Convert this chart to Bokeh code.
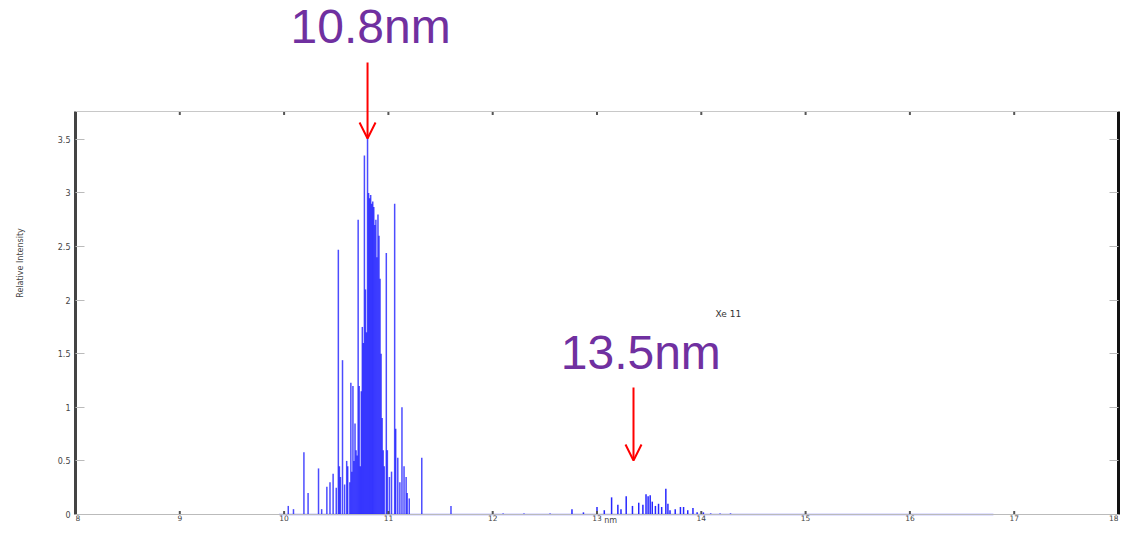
from bokeh.plotting import figure
from bokeh.models import Range1d, LinearAxis, FixedTicker, Label, Arrow, OpenHead, ColumnDataSource, Span
from bokeh.embed import file_html
from bokeh.resources import INLINE

# ---- data ----
main_nm = [10.04, 10.09, 10.19, 10.23, 10.33, 10.36, 10.41, 10.44, 10.47, 10.50,
           10.52, 10.53, 10.54, 10.56, 10.58, 10.60, 10.61, 10.63, 10.64, 10.65,
           10.66, 10.67, 10.68, 10.69, 10.70, 10.71, 10.72, 10.73, 10.74, 10.75,
           10.76, 10.77, 10.78, 10.79, 10.80, 10.81, 10.82, 10.83, 10.84, 10.85,
           10.86, 10.87, 10.88, 10.89, 10.90, 10.91, 10.92, 10.93, 10.94, 10.95,
           10.96, 10.98, 10.99, 11.01, 11.03, 11.06, 11.07, 11.09, 11.11, 11.13,
           11.15, 11.17, 11.18, 11.20, 11.32, 11.60]
main_int = [0.08, 0.05, 0.58, 0.20, 0.43, 0.05, 0.26, 0.30, 0.38, 0.25,
            2.47, 0.45, 0.35, 1.44, 0.28, 0.50, 0.45, 0.30, 1.23, 0.40,
            1.20, 0.50, 0.85, 0.60, 0.55, 2.75, 1.20, 0.45, 1.15, 1.75,
            1.60, 3.35, 2.10, 1.70, 3.55, 3.00, 2.95, 2.98, 2.90, 2.92,
            2.87, 2.70, 2.75, 2.40, 2.80, 2.60, 2.20, 1.50, 0.90, 0.60,
            0.45, 2.44, 0.60, 0.35, 0.40, 2.90, 0.80, 0.53, 0.30, 1.00,
            0.45, 0.35, 0.20, 0.15, 0.53, 0.08]

euv_nm = [12.10, 12.30, 12.55, 12.76, 12.87, 13.00, 13.07, 13.14, 13.20, 13.23,
          13.28, 13.34, 13.40, 13.44, 13.47, 13.49, 13.51, 13.53, 13.56, 13.59,
          13.62, 13.66, 13.68, 13.70, 13.75, 13.80, 13.83, 13.87, 13.92, 13.96,
          14.02, 14.09, 14.18, 14.28]
euv_int = [0.01, 0.01, 0.01, 0.05, 0.02, 0.07, 0.04, 0.16, 0.09, 0.05,
           0.17, 0.08, 0.11, 0.09, 0.19, 0.17, 0.18, 0.12, 0.08, 0.10,
           0.07, 0.24, 0.10, 0.04, 0.05, 0.07, 0.07, 0.04, 0.06, 0.02,
           0.02, 0.01, 0.01, 0.01]

baseline_nm = [9.95, 16.8]
baseline_int = [0.0, 0.0]

x_ticks = [8, 9, 10, 11, 12, 13, 14, 15, 16, 17, 18]
x_tick_labels = ["8", "9", "10", "11", "12", "13", "14", "15", "16", "17", "18"]
y_ticks = [0, 0.5, 1, 1.5, 2, 2.5, 3, 3.5]
y_tick_labels = ["0", "0.5", "1", "1.5", "2", "2.5", "3", "3.5"]
y_top = 3.76  # top of the axes box

peak_labels = ["10.8nm", "13.5nm"]
peak_nm = [10.80, 13.35]

# ---- figure ----
# The plotting frame covers the whole canvas height so that the labels and
# arrows above the axes box and the "nm" unit below it are not clipped; the box
# itself is drawn with axis bounds, spans and tick marks at y = 0 and y = 3.76.
PX = 107.18          # pixels per intensity unit
Y0 = 514             # canvas row of intensity 0
H = 525
p = figure(width=1122, height=H, output_backend="svg", toolbar_location=None,
           x_range=Range1d(8, 18), y_range=Range1d(-(H - Y0) / PX, Y0 / PX),
           x_axis_location=None,
           min_border_left=75, min_border_right=4, min_border_top=0, min_border_bottom=0,
           y_axis_label="Relative Intensity")
p.background_fill_color = "white"
p.border_fill_color = "white"
p.outline_line_color = None
p.xgrid.visible = False
p.ygrid.visible = False

src_main = ColumnDataSource(dict(x=main_nm, y=main_int, y0=[0.0] * len(main_nm)))
src_euv = ColumnDataSource(dict(x=euv_nm, y=euv_int, y0=[0.0] * len(euv_nm)))
p.line(baseline_nm, baseline_int, line_color="#6f6fff", line_width=1.5, line_alpha=0.8)
p.segment(x0="x", y0="y0", x1="x", y1="y", source=src_main,
          line_color="#0000ff", line_width=1.5, line_alpha=0.7)
p.segment(x0="x", y0="y0", x1="x", y1="y", source=src_euv,
          line_color="#0000ff", line_width=1.5, line_alpha=0.85)

# box: top and bottom edges with small inward tick marks
p.add_layout(Span(location=y_top, dimension="width", line_color="#c8c8c8", line_width=1))
p.add_layout(Span(location=0, dimension="width", line_color="#bbbbbb", line_width=1))
tick_len = 3.5 / PX
n = len(x_ticks)
p.segment(x0=x_ticks, y0=[y_top] * n, x1=x_ticks, y1=[y_top - tick_len] * n,
          line_color="#555555", line_width=2)
p.segment(x0=x_ticks, y0=[0.0] * n, x1=x_ticks, y1=[tick_len] * n,
          line_color="#555555", line_width=2)
# x tick labels (end labels aligned inwards so the frame does not cut them) and unit
x_align = ["left"] + ["center"] * (n - 2) + ["right"]
src_xt = ColumnDataSource(dict(x=x_ticks, y=[-0.5 / PX] * n, t=x_tick_labels, a=x_align))
p.text(x="x", y="y", text="t", text_align="a", source=src_xt,
       text_font={"value": "DejaVu Sans"}, text_font_size="7.5px",
       text_color="#444444", text_baseline="top")
p.add_layout(Label(x=13.13, y=-5.5 / PX, text="nm", text_font="DejaVu Sans",
                   text_font_size="8px", text_color="#444444", text_align="center",
                   text_baseline="middle"))

# y axis (real axis, limited to the box)
ya = p.yaxis[0]
ya.bounds = (0, y_top)
ya.ticker = FixedTicker(ticks=y_ticks)
ya.major_label_overrides = {t: s for t, s in zip(y_ticks, y_tick_labels)}
ya.major_label_text_font = "DejaVu Sans"
ya.major_label_text_font_size = "8px"
ya.major_label_text_color = "#444444"
ya.major_label_standoff = 5
ya.axis_line_color = "#444444"
ya.axis_line_width = 3
ya.major_tick_in = 9
ya.major_tick_out = 0
ya.major_tick_line_color = "#bbbbbb"
ya.minor_tick_line_color = None
ya.axis_label_text_font = "DejaVu Sans"
ya.axis_label_text_font_size = "8px"
ya.axis_label_text_font_style = "normal"
ya.axis_label_text_color = "#444444"
ya.axis_label_standoff = 30

right = LinearAxis(ticker=FixedTicker(ticks=y_ticks), bounds=(0, y_top),
                   major_label_text_color=None, major_label_standoff=0,
                   axis_line_color="#111111", axis_line_width=3,
                   major_tick_in=9, major_tick_out=0, major_tick_line_color="#bbbbbb",
                   minor_tick_line_color=None)
p.add_layout(right, "right")

# annotations
p.add_layout(Label(x=10.83, y=(Y0 - 25.5) / PX, text=peak_labels[0], text_font="Liberation Sans",
                   text_font_size="48px", text_color="#7030a0", text_align="center",
                   text_baseline="middle"))
p.add_layout(Label(x=13.42, y=(Y0 - 351.5) / PX, text=peak_labels[1], text_font="Liberation Sans",
                   text_font_size="48px", text_color="#7030a0", text_align="center",
                   text_baseline="middle"))
p.add_layout(Label(x=14.26, y=(Y0 - 313) / PX, text="Xe 11", text_font="DejaVu Sans",
                   text_font_size="9px", text_color="#333333", text_align="center",
                   text_baseline="middle"))

p.add_layout(Arrow(x_start=peak_nm[0], y_start=(Y0 - 62) / PX, x_end=peak_nm[0], y_end=(Y0 - 138) / PX,
                   line_color="#ff0000", line_width=2,
                   end=OpenHead(size=16, line_color="#ff0000", line_width=2)))
p.add_layout(Arrow(x_start=peak_nm[1], y_start=(Y0 - 387) / PX, x_end=peak_nm[1], y_end=(Y0 - 460) / PX,
                   line_color="#ff0000", line_width=2,
                   end=OpenHead(size=16, line_color="#ff0000", line_width=2)))

open("out.html", "w").write(file_html(p, INLINE))
